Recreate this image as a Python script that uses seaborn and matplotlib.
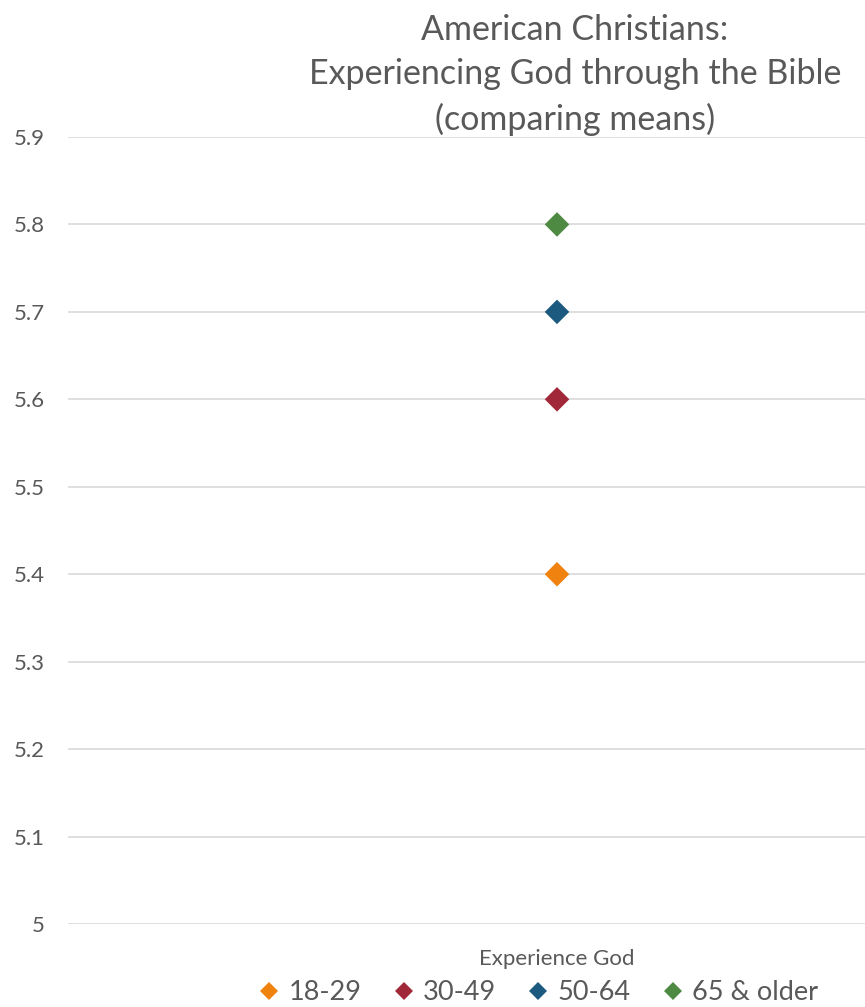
import matplotlib
matplotlib.use("Agg")
import matplotlib.pyplot as plt
from matplotlib.lines import Line2D
import seaborn as sns
import pandas as pd

# Mean scores by age group
categories = ["Experience God"]
age_groups = ["18-29", "30-49", "50-64", "65 & older"]
means = [5.4, 5.6, 5.7, 5.8]
colors = ["#F0820F", "#A12838", "#1D5A80", "#4F8A43"]
y_ticks = [5, 5.1, 5.2, 5.3, 5.4, 5.5, 5.6, 5.7, 5.8, 5.9]
y_tick_labels = ["5", "5.1", "5.2", "5.3", "5.4", "5.5", "5.6", "5.7", "5.8", "5.9"]
title = "American Christians:\nExperiencing God through the Bible\n(comparing means)"

df = pd.DataFrame({
    "measure": categories * len(age_groups),
    "group": age_groups,
    "mean": means,
})

sns.set_theme(style="white")
plt.rcParams["font.family"] = ["Lato", "DejaVu Sans"]
text_color = "#595959"
grid_color = "#D9D9D9"

W, H = 865, 1007
fig = plt.figure(figsize=(W / 100, H / 100), dpi=100)
ax_left, ax_right, ax_top, ax_bottom = 68, 1046, 137, 924
ax = fig.add_axes([ax_left / W, 1 - ax_bottom / H,
                   (ax_right - ax_left) / W, (ax_bottom - ax_top) / H])

sns.stripplot(data=df, x="measure", y="mean", hue="group", hue_order=age_groups,
              palette=colors, jitter=False, marker="D", size=12.5, linewidth=0,
              legend=False, ax=ax, zorder=3)

ax.set_xlim(-0.5, 0.5)
ax.set_ylim(5, 5.9)
ax.set_yticks(y_ticks)
ax.set_yticklabels(y_tick_labels)
ax.yaxis.grid(True, color=grid_color, linewidth=1.2)
ax.set_axisbelow(True)
for s in ax.spines.values():
    s.set_visible(False)
ax.tick_params(axis="y", length=0, pad=16.5, labelsize=16, labelcolor=text_color)
ax.tick_params(axis="x", length=0, pad=18, labelsize=16, labelcolor=text_color)
ax.set_xlabel("")
ax.set_ylabel("")

fig.text(575 / W, 1 - 14 / H, title, ha="center", va="top", fontsize=24.5,
         color=text_color, linespacing=1.46)

handles = [Line2D([0], [0], marker="D", linestyle="none", markersize=9,
                  markerfacecolor=c, markeredgewidth=0, label=g)
           for g, c in zip(age_groups, colors)]
fig.legend(handles=handles, loc="center", bbox_to_anchor=(537 / W, 1 - 993 / H),
           ncol=4, frameon=False, fontsize=19.5, labelcolor=text_color,
           handletextpad=0.22, columnspacing=1.05, handlelength=1.0,
           borderpad=0, borderaxespad=0)

fig.savefig("out.png", dpi=100)
